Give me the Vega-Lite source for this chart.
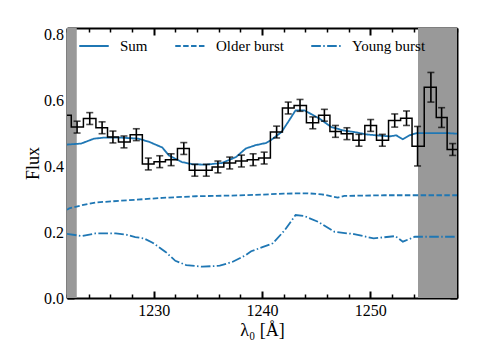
{
  "$schema": "https://vega.github.io/schema/vega-lite/v6.json",
  "width": 390,
  "height": 270,
  "autosize": {"type": "none"},
  "padding": {"left": 67, "top": 28, "right": 23, "bottom": 49},
  "config": {
    "view": {"stroke": null},
    "axis": {
      "grid": false,
      "zindex": 1,
      "tickColor": "black",
      "domainColor": "black",
      "labelFont": "Liberation Serif",
      "labelFontSize": 16,
      "labelColor": "black",
      "labelFlush": false,
      "titleFont": "Liberation Serif",
      "titleFontSize": 18,
      "titleFontWeight": "normal",
      "titleColor": "black"
    },
    "legend": {
      "labelFont": "Liberation Serif",
      "labelFontSize": 15,
      "labelColor": "black"
    }
  },
  "datasets": {
    "obs": [
      {"lam": 1221.86, "flux": 0.555, "err": 0.018},
      {"lam": 1222.93, "flux": 0.519, "err": 0.018},
      {"lam": 1224.10, "flux": 0.545, "err": 0.018},
      {"lam": 1225.24, "flux": 0.517, "err": 0.018},
      {"lam": 1226.24, "flux": 0.489, "err": 0.018},
      {"lam": 1227.26, "flux": 0.474, "err": 0.018},
      {"lam": 1228.40, "flux": 0.496, "err": 0.018},
      {"lam": 1229.51, "flux": 0.407, "err": 0.018},
      {"lam": 1230.56, "flux": 0.414, "err": 0.018},
      {"lam": 1231.61, "flux": 0.420, "err": 0.018},
      {"lam": 1232.78, "flux": 0.454, "err": 0.018},
      {"lam": 1233.80, "flux": 0.388, "err": 0.018},
      {"lam": 1234.86, "flux": 0.388, "err": 0.018},
      {"lam": 1235.93, "flux": 0.398, "err": 0.018},
      {"lam": 1237.02, "flux": 0.410, "err": 0.018},
      {"lam": 1238.10, "flux": 0.416, "err": 0.018},
      {"lam": 1239.18, "flux": 0.420, "err": 0.018},
      {"lam": 1240.20, "flux": 0.425, "err": 0.018},
      {"lam": 1241.35, "flux": 0.504, "err": 0.018},
      {"lam": 1242.42, "flux": 0.577, "err": 0.018},
      {"lam": 1243.51, "flux": 0.585, "err": 0.018},
      {"lam": 1244.69, "flux": 0.532, "err": 0.018},
      {"lam": 1245.76, "flux": 0.555, "err": 0.018},
      {"lam": 1246.78, "flux": 0.506, "err": 0.018},
      {"lam": 1247.84, "flux": 0.499, "err": 0.018},
      {"lam": 1248.95, "flux": 0.479, "err": 0.018},
      {"lam": 1250.03, "flux": 0.524, "err": 0.018},
      {"lam": 1251.11, "flux": 0.479, "err": 0.018},
      {"lam": 1252.25, "flux": 0.539, "err": 0.020},
      {"lam": 1253.34, "flux": 0.546, "err": 0.022},
      {"lam": 1254.36, "flux": 0.461, "err": 0.060},
      {"lam": 1255.59, "flux": 0.640, "err": 0.045},
      {"lam": 1256.58, "flux": 0.548, "err": 0.030},
      {"lam": 1257.60, "flux": 0.451, "err": 0.018},
      {"lam": 1258.68, "flux": 0.450, "err": 0.020}
    ],
    "models": [
      {"lam": 1222.0, "flux": 0.466, "series": "Sum"},
      {"lam": 1223.3, "flux": 0.469, "series": "Sum"},
      {"lam": 1224.5, "flux": 0.484, "series": "Sum"},
      {"lam": 1225.4, "flux": 0.487, "series": "Sum"},
      {"lam": 1227.0, "flux": 0.487, "series": "Sum"},
      {"lam": 1228.6, "flux": 0.484, "series": "Sum"},
      {"lam": 1229.6, "flux": 0.474, "series": "Sum"},
      {"lam": 1230.8, "flux": 0.457, "series": "Sum"},
      {"lam": 1231.4, "flux": 0.433, "series": "Sum"},
      {"lam": 1232.6, "flux": 0.413, "series": "Sum"},
      {"lam": 1233.6, "flux": 0.406, "series": "Sum"},
      {"lam": 1234.8, "flux": 0.405, "series": "Sum"},
      {"lam": 1236.3, "flux": 0.410, "series": "Sum"},
      {"lam": 1237.6, "flux": 0.428, "series": "Sum"},
      {"lam": 1238.5, "flux": 0.454, "series": "Sum"},
      {"lam": 1239.4, "flux": 0.464, "series": "Sum"},
      {"lam": 1240.4, "flux": 0.471, "series": "Sum"},
      {"lam": 1240.8, "flux": 0.479, "series": "Sum"},
      {"lam": 1241.8, "flux": 0.504, "series": "Sum"},
      {"lam": 1242.4, "flux": 0.534, "series": "Sum"},
      {"lam": 1243.1, "flux": 0.570, "series": "Sum"},
      {"lam": 1243.9, "flux": 0.570, "series": "Sum"},
      {"lam": 1245.3, "flux": 0.545, "series": "Sum"},
      {"lam": 1246.4, "flux": 0.519, "series": "Sum"},
      {"lam": 1247.5, "flux": 0.509, "series": "Sum"},
      {"lam": 1248.7, "flux": 0.503, "series": "Sum"},
      {"lam": 1249.6, "flux": 0.497, "series": "Sum"},
      {"lam": 1250.9, "flux": 0.493, "series": "Sum"},
      {"lam": 1251.8, "flux": 0.491, "series": "Sum"},
      {"lam": 1252.4, "flux": 0.494, "series": "Sum"},
      {"lam": 1253.0, "flux": 0.482, "series": "Sum"},
      {"lam": 1253.6, "flux": 0.494, "series": "Sum"},
      {"lam": 1254.3, "flux": 0.501, "series": "Sum"},
      {"lam": 1255.5, "flux": 0.501, "series": "Sum"},
      {"lam": 1257.0, "flux": 0.501, "series": "Sum"},
      {"lam": 1258.0, "flux": 0.499, "series": "Sum"},
      {"lam": 1222.0, "flux": 0.268, "series": "Older burst"},
      {"lam": 1222.2, "flux": 0.272, "series": "Older burst"},
      {"lam": 1223.4, "flux": 0.282, "series": "Older burst"},
      {"lam": 1224.6, "flux": 0.290, "series": "Older burst"},
      {"lam": 1227.7, "flux": 0.297, "series": "Older burst"},
      {"lam": 1230.8, "flux": 0.304, "series": "Older burst"},
      {"lam": 1233.9, "flux": 0.309, "series": "Older burst"},
      {"lam": 1237.0, "flux": 0.311, "series": "Older burst"},
      {"lam": 1240.1, "flux": 0.314, "series": "Older burst"},
      {"lam": 1242.0, "flux": 0.317, "series": "Older burst"},
      {"lam": 1244.2, "flux": 0.318, "series": "Older burst"},
      {"lam": 1245.5, "flux": 0.315, "series": "Older burst"},
      {"lam": 1247.0, "flux": 0.305, "series": "Older burst"},
      {"lam": 1247.6, "flux": 0.310, "series": "Older burst"},
      {"lam": 1251.3, "flux": 0.312, "series": "Older burst"},
      {"lam": 1258.0, "flux": 0.312, "series": "Older burst"},
      {"lam": 1222.0, "flux": 0.195, "series": "Young burst"},
      {"lam": 1223.4, "flux": 0.188, "series": "Young burst"},
      {"lam": 1224.6, "flux": 0.196, "series": "Young burst"},
      {"lam": 1226.5, "flux": 0.196, "series": "Young burst"},
      {"lam": 1227.4, "flux": 0.193, "series": "Young burst"},
      {"lam": 1228.3, "flux": 0.185, "series": "Young burst"},
      {"lam": 1229.1, "flux": 0.181, "series": "Young burst"},
      {"lam": 1229.9, "flux": 0.168, "series": "Young burst"},
      {"lam": 1231.1, "flux": 0.140, "series": "Young burst"},
      {"lam": 1232.0, "flux": 0.113, "series": "Young burst"},
      {"lam": 1233.0, "flux": 0.100, "series": "Young burst"},
      {"lam": 1234.5, "flux": 0.095, "series": "Young burst"},
      {"lam": 1236.1, "flux": 0.098, "series": "Young burst"},
      {"lam": 1237.3, "flux": 0.110, "series": "Young burst"},
      {"lam": 1238.5, "flux": 0.130, "series": "Young burst"},
      {"lam": 1239.0, "flux": 0.142, "series": "Young burst"},
      {"lam": 1240.1, "flux": 0.155, "series": "Young burst"},
      {"lam": 1241.0, "flux": 0.166, "series": "Young burst"},
      {"lam": 1242.1, "flux": 0.206, "series": "Young burst"},
      {"lam": 1243.1, "flux": 0.252, "series": "Young burst"},
      {"lam": 1243.9, "flux": 0.249, "series": "Young burst"},
      {"lam": 1245.2, "flux": 0.231, "series": "Young burst"},
      {"lam": 1246.7, "flux": 0.201, "series": "Young burst"},
      {"lam": 1248.5, "flux": 0.194, "series": "Young burst"},
      {"lam": 1250.3, "flux": 0.181, "series": "Young burst"},
      {"lam": 1252.3, "flux": 0.188, "series": "Young burst"},
      {"lam": 1253.0, "flux": 0.171, "series": "Young burst"},
      {"lam": 1254.1, "flux": 0.186, "series": "Young burst"},
      {"lam": 1258.0, "flux": 0.186, "series": "Young burst"}
    ],
    "masks": [
      {"start": 1221.0, "end": 1222.9},
      {"start": 1254.4, "end": 1259.0}
    ]
  },
  "resolve": {"axis": {"x": "independent", "y": "independent"}},
  "layer": [
    {
      "data": {"name": "masks"},
      "mark": {"type": "rect", "color": "#999999", "clip": true},
      "encoding": {
        "x": {
          "field": "start", "type": "quantitative",
          "scale": {"domain": [1222, 1258], "nice": false, "zero": false},
          "axis": {
            "orient": "bottom", "values": [1230, 1240, 1250], "format": "d",
            "tickSize": -7, "tickWidth": 2, "labelPadding": 11,
            "domain": true, "domainWidth": 2,
            "title": "λ₀ [Å]", "titlePadding": 3
          }
        },
        "x2": {"field": "end"}
      }
    },
    {
      "data": {"name": "models"},
      "transform": [{"filter": "datum.series === 'Sum'"}],
      "mark": {"type": "line", "color": "#1f77b4", "strokeWidth": 1.8, "clip": true},
      "encoding": {
        "x": {
          "field": "lam", "type": "quantitative",
          "scale": {"domain": [1222, 1258], "nice": false, "zero": false},
          "axis": {
            "orient": "top", "values": [1230, 1240, 1250],
            "tickSize": -7, "tickWidth": 2, "labels": false,
            "domain": true, "domainWidth": 2, "title": null
          }
        },
        "y": {
          "field": "flux", "type": "quantitative",
          "scale": {"domain": [0, 0.82], "nice": false},
          "axis": {
            "orient": "left",
            "values": [0.05, 0.1, 0.15, 0.25, 0.3, 0.35, 0.45, 0.5, 0.55, 0.65, 0.7, 0.75],
            "tickSize": -4, "tickWidth": 1.5, "labels": false,
            "domain": false, "title": null
          }
        },
        "strokeDash": {
          "field": "series", "type": "nominal",
          "scale": {
            "domain": ["Sum", "Older burst", "Young burst"],
            "range": [[1, 0], [5.5, 2.4], [9.6, 2.4, 1.5, 2.4]]
          },
          "legend": {
            "orient": "none", "legendX": 11, "legendY": 2,
            "direction": "horizontal", "title": null,
            "symbolType": "stroke", "symbolSize": 870,
            "symbolStrokeWidth": 1.8, "symbolStrokeColor": "#1f77b4",
            "labelOffset": 10, "columnPadding": 23, "padding": 0
          }
        }
      }
    },
    {
      "data": {"name": "models"},
      "transform": [{"filter": "datum.series === 'Older burst'"}],
      "mark": {"type": "line", "color": "#1f77b4", "strokeWidth": 1.8, "clip": true},
      "encoding": {
        "x": {
          "field": "lam", "type": "quantitative",
          "scale": {"domain": [1222, 1258], "nice": false, "zero": false},
          "axis": {
            "orient": "top",
            "values": [1222, 1224, 1226, 1228, 1232, 1234, 1236, 1238, 1242, 1244, 1246, 1248, 1252, 1254, 1256, 1258],
            "tickSize": -4, "tickWidth": 1.5, "labels": false,
            "domain": false, "title": null
          }
        },
        "y": {
          "field": "flux", "type": "quantitative",
          "scale": {"domain": [0, 0.82], "nice": false},
          "axis": {
            "orient": "right", "values": [0, 0.2, 0.4, 0.6, 0.8],
            "tickSize": -7, "tickWidth": 2, "labels": false,
            "domain": true, "domainWidth": 2, "title": null
          }
        },
        "strokeDash": {"field": "series", "type": "nominal"}
      }
    },
    {
      "data": {"name": "models"},
      "transform": [{"filter": "datum.series === 'Young burst'"}],
      "mark": {"type": "line", "color": "#1f77b4", "strokeWidth": 1.8, "clip": true},
      "encoding": {
        "x": {
          "field": "lam", "type": "quantitative",
          "scale": {"domain": [1222, 1258], "nice": false, "zero": false},
          "axis": null
        },
        "y": {
          "field": "flux", "type": "quantitative",
          "scale": {"domain": [0, 0.82], "nice": false},
          "axis": {
            "orient": "right",
            "values": [0.05, 0.1, 0.15, 0.25, 0.3, 0.35, 0.45, 0.5, 0.55, 0.65, 0.7, 0.75],
            "tickSize": -4, "tickWidth": 1.5, "labels": false,
            "domain": false, "title": null
          }
        },
        "strokeDash": {"field": "series", "type": "nominal"}
      }
    },
    {
      "data": {"name": "obs"},
      "mark": {"type": "line", "interpolate": "step", "color": "black", "strokeWidth": 1.5, "clip": true},
      "encoding": {
        "x": {
          "field": "lam", "type": "quantitative",
          "scale": {"domain": [1222, 1258], "nice": false, "zero": false},
          "axis": {
            "orient": "bottom",
            "values": [1222, 1224, 1226, 1228, 1232, 1234, 1236, 1238, 1242, 1244, 1246, 1248, 1252, 1254, 1256, 1258],
            "tickSize": -4, "tickWidth": 1.5, "labels": false,
            "domain": false, "title": null
          }
        },
        "y": {
          "field": "flux", "type": "quantitative",
          "scale": {"domain": [0, 0.82], "nice": false},
          "axis": {
            "orient": "left", "values": [0, 0.2, 0.4, 0.6, 0.8], "format": ".1f",
            "tickSize": -7, "tickWidth": 2, "labelPadding": 10.5,
            "domain": true, "domainWidth": 2,
            "title": "Flux", "titlePadding": 1
          }
        }
      }
    },
    {
      "data": {"name": "obs"},
      "transform": [{"filter": "datum.lam >= 1222 && datum.lam <= 1258"}],
      "mark": {
        "type": "errorbar", "color": "black",
        "rule": {"strokeWidth": 1.6},
        "ticks": {"size": 7, "thickness": 1.6, "color": "black"}
      },
      "encoding": {
        "x": {
          "field": "lam", "type": "quantitative",
          "scale": {"domain": [1222, 1258], "nice": false, "zero": false},
          "axis": null
        },
        "y": {
          "field": "flux", "type": "quantitative",
          "scale": {"domain": [0, 0.82], "nice": false},
          "axis": null
        },
        "yError": {"field": "err"}
      }
    }
  ]
}
